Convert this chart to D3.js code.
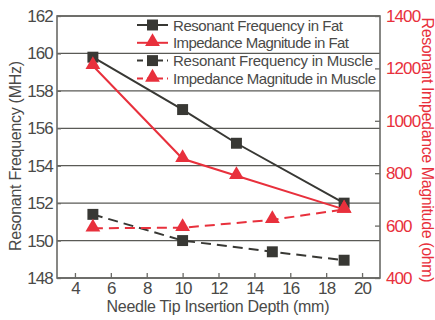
<!DOCTYPE html>
<html>
<head>
<meta charset="utf-8">
<script src="https://cdn.jsdelivr.net/npm/d3@7"></script>
<style>
  body { margin: 0; background: #fff; }
  svg { display: block; font-family: "Liberation Sans", Arial, sans-serif; }
</style>
</head>
<body>
<svg width="435" height="320"></svg>
<script>
// data
let depthFat = [5, 10, 13, 19];
let depthMuscle = [5, 10, 15, 19];
let freqFat = [159.8, 157.0, 155.2, 152.0];
let impFat = [1210, 855, 790, 662];
let freqMuscle = [151.4, 150.0, 149.4, 148.95];
let impMuscle = [590, 592, 622, 662];
let xTicks = [4, 6, 8, 10, 12, 14, 16, 18, 20];
let yLeftTicks = [148, 150, 152, 154, 156, 158, 160, 162];
let yRightTicks = [400, 600, 800, 1000, 1200, 1400];
let legendLabels = ["Resonant Frequency in Fat", "Impedance Magnitude in Fat",
    "Resonant Frequency in Muscle", "Impedance Magnitude in Muscle"];
let legendWidths = [170, 176, 200, 203];

let black = "#383834", red = "#e8303c", grid = "#5a5a56", textCol = "#4a4a48", frame = "#6a6a66";

let svg = d3.select("svg");
let margin = {top: 16, right: 55, bottom: 42, left: 57},
    width = 435 - margin.left - margin.right,
    height = 320 - margin.top - margin.bottom,
    g = svg.append("g").attr("transform", "translate(" + margin.left + "," + margin.top + ")");

let x = d3.scaleLinear().domain([3, 21]).range([0, width]),
    yL = d3.scaleLinear().domain([148, 162]).range([height, 0]),
    yR = d3.scaleLinear().domain([400, 1400]).range([height, 0]);

// gridlines
g.selectAll(".grid").data(yLeftTicks).enter().append("line")
    .attr("x1", 0).attr("x2", width)
    .attr("y1", d => yL(d)).attr("y2", d => yL(d))
    .attr("stroke", grid).attr("stroke-width", 1.3);

// frame
g.append("rect").attr("width", width).attr("height", height)
    .attr("fill", "none").attr("stroke", frame).attr("stroke-width", 1.6);

function styleTicks(axis, col) {
    axis.select(".domain").remove();
    axis.selectAll("line").attr("stroke", frame).attr("stroke-width", 1.3);
    axis.selectAll("text").attr("fill", col).style("font-size", "17px").attr("letter-spacing", "-0.9");
}

// x axis
let xAxis = g.append("g").attr("transform", "translate(0," + height + ")")
    .call(d3.axisBottom(x).tickValues(xTicks).tickSizeInner(-5).tickSizeOuter(0).tickPadding(4));
styleTicks(xAxis, textCol);

// left axis
let yAxisL = g.append("g")
    .call(d3.axisLeft(yL).tickValues(yLeftTicks).tickSizeInner(-4).tickSizeOuter(0).tickPadding(5));
styleTicks(yAxisL, textCol);
yAxisL.selectAll("text").attr("dx", "0.9");

// right axis
let yAxisR = g.append("g").attr("transform", "translate(" + width + ",0)")
    .call(d3.axisRight(yR).tickValues(yRightTicks).tickFormat(d3.format("d"))
        .tickSizeInner(-5).tickSizeOuter(0).tickPadding(6));
styleTicks(yAxisR, red);

// axis titles
svg.append("text")
    .attr("transform", "translate(21,156) rotate(-90)")
    .attr("text-anchor", "middle").attr("fill", textCol)
    .style("font-size", "16px").attr("textLength", 190).attr("lengthAdjust", "spacing")
    .text("Resonant Frequency (MHz)");
svg.append("text")
    .attr("transform", "translate(422,150) rotate(90)")
    .attr("text-anchor", "middle").attr("fill", red)
    .style("font-size", "16px").attr("textLength", 265).attr("lengthAdjust", "spacing")
    .text("Resonant Impedance Magnitude (ohm)");
svg.append("text")
    .attr("x", 218).attr("y", 312)
    .attr("text-anchor", "middle").attr("fill", textCol)
    .style("font-size", "16px").attr("textLength", 223).attr("lengthAdjust", "spacing")
    .text("Needle Tip Insertion Depth (mm)");

let series = [
    {xs: depthFat, ys: freqFat, scale: yL, color: black, dash: null, shape: "square"},
    {xs: depthFat, ys: impFat, scale: yR, color: red, dash: null, shape: "triangle"},
    {xs: depthMuscle, ys: freqMuscle, scale: yL, color: black, dash: "10,6", shape: "square"},
    {xs: depthMuscle, ys: impMuscle, scale: yR, color: red, dash: "10,6", shape: "triangle"}
];

let squareSym = d3.symbol().type(d3.symbolSquare).size(120);
let triSym = d3.symbol().type(d3.symbolTriangle).size(95);

function drawMarker(sel, s, cx, cy) {
    sel.append("path")
        .attr("d", s.shape === "square" ? squareSym() : triSym())
        .attr("transform", "translate(" + cx + "," + (s.shape === "triangle" ? cy - 1 : cy) + ")")
        .attr("fill", s.color);
}

series.forEach(function (s) {
    let pts = s.xs.map((d, i) => [x(d), s.scale(s.ys[i])]);
    g.append("path")
        .attr("d", d3.line()(pts))
        .attr("fill", "none").attr("stroke", s.color).attr("stroke-width", 2)
        .attr("stroke-dasharray", s.dash);
    pts.forEach(p => drawMarker(g, s, p[0], p[1]));
});

// legend
let legend = svg.append("g").attr("transform", "translate(137,25)");
series.forEach(function (s, i) {
    let row = legend.append("g").attr("transform", "translate(0," + (i * 17.8) + ")");
    row.append("line").attr("x1", 0).attr("x2", 31).attr("y1", 0).attr("y2", 0)
        .attr("stroke", s.color).attr("stroke-width", 2)
        .attr("stroke-dasharray", s.dash ? "6,4" : null);
    drawMarker(row, s, 15.5, 0);
    row.append("text").attr("x", 36).attr("y", 5.5)
        .attr("fill", textCol).style("font-size", "15px")
        .attr("textLength", legendWidths[i]).attr("lengthAdjust", "spacing")
        .text(legendLabels[i]);
});
</script>
</body>
</html>
